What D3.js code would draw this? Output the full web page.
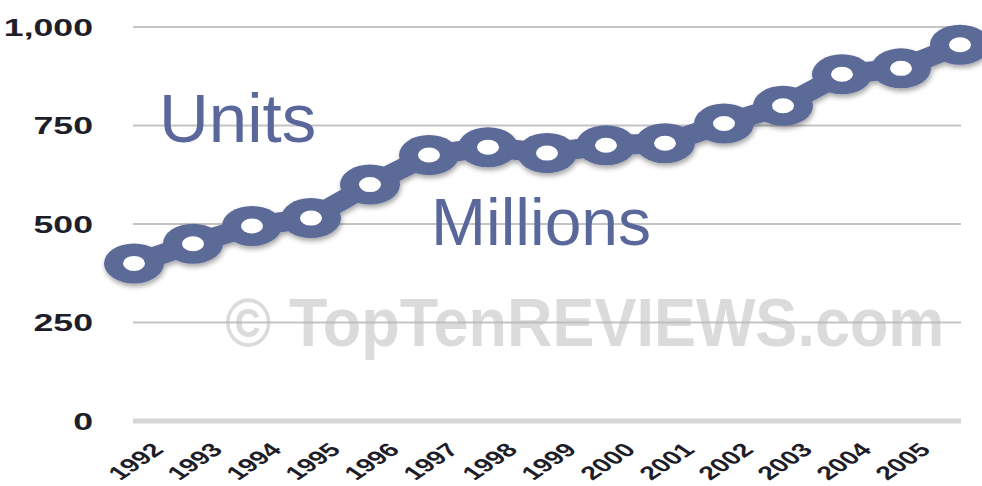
<!DOCTYPE html>
<html>
<head>
<meta charset="utf-8">
<script src="https://cdn.jsdelivr.net/npm/d3@7"></script>
<style>
  html, body { margin: 0; padding: 0; background: #fff; }
  svg { display: block; }
</style>
</head>
<body>
<script>
// Unit shipments per year, in millions
const years = [1992, 1993, 1994, 1995, 1996, 1997, 1998, 1999, 2000, 2001, 2002, 2003, 2004, 2005, 2006];
const units = [400, 450, 495, 515, 600, 675, 695, 680, 700, 705, 755, 800, 880, 895, 955];
const xTickLabels = ["1992", "1993", "1994", "1995", "1996", "1997", "1998", "1999", "2000", "2001", "2002", "2003", "2004", "2005"];
const yTicks = [0, 250, 500, 750, 1000];

const W = 982, H = 486;
const blue = "#5b6a98";
const font = "'Liberation Sans', Arial, sans-serif";

const svg = d3.select("body").append("svg")
  .attr("width", W).attr("height", H)
  .attr("viewBox", `0 0 ${W} ${H}`);

const defs = svg.append("defs");
const shadow = defs.append("filter").attr("id", "soft-shadow")
  .attr("x", "-10%").attr("y", "-20%").attr("width", "120%").attr("height", "150%");
shadow.append("feDropShadow")
  .attr("dx", 1).attr("dy", 3).attr("stdDeviation", 2.5)
  .attr("flood-color", "#000").attr("flood-opacity", 0.35);

const x = d3.scalePoint().domain(years).range([134, 960]);
const y = d3.scaleLinear().domain([0, 1000]).range([421, 27]);

// Horizontal gridlines
const grid = svg.append("g");
grid.selectAll("line").data(yTicks).join("line")
  .attr("x1", 133).attr("x2", 961)
  .attr("y1", d => y(d)).attr("y2", d => y(d))
  .attr("stroke", d => d === 0 ? "#d6d6d6" : "#c4c4c4")
  .attr("stroke-width", d => d === 0 ? 5 : 2);

// Y axis labels (wide lettering)
const yAxis = d3.axisLeft(y).tickValues(yTicks).tickFormat(d3.format(",")).tickSize(0).tickPadding(0);
const gy = svg.append("g").call(yAxis);
gy.select(".domain").remove();
gy.selectAll(".tick text")
  .attr("x", null)
  .attr("transform", "translate(93,0) scale(1.55,1)")
  .attr("dy", "0.36em")
  .attr("text-anchor", "end")
  .attr("fill", "#1e1e2a")
  .style("font-family", font)
  .style("font-weight", "bold")
  .style("font-size", "23px");

// X axis labels, slanted
const xAxis = d3.axisBottom(x).tickValues(years.slice(0, xTickLabels.length))
  .tickFormat((d, i) => xTickLabels[i]).tickSize(0).tickPadding(0);
const gx = svg.append("g").call(xAxis);
gx.select(".domain").remove();
gx.selectAll(".tick").attr("transform", d => `translate(${x(d)},0)`);
gx.selectAll(".tick text")
  .attr("y", null).attr("dy", null)
  .attr("transform", "translate(31,451) scale(1.5,1) rotate(-45)")
  .attr("text-anchor", "end")
  .attr("fill", "#1e1e2a")
  .style("font-family", font)
  .style("font-weight", "bold")
  .style("font-size", "19px");

// Annotations
svg.append("text").text("Units")
  .attr("x", 159).attr("y", 142)
  .attr("fill", "#59679a")
  .style("font-family", font).style("font-size", "69px");
svg.append("text").text("Millions")
  .attr("x", 431).attr("y", 245)
  .attr("fill", "#59679a")
  .style("font-family", font).style("font-size", "66px");

// Series line with ring markers
const series = svg.append("g").attr("filter", "url(#soft-shadow)");
const line = d3.line().x((d, i) => x(years[i])).y(d => y(d));
series.append("path").datum(units)
  .attr("d", line)
  .attr("fill", "none")
  .attr("stroke", blue)
  .attr("stroke-width", 20)
  .attr("stroke-linejoin", "round");
series.selectAll("ellipse").data(units).join("ellipse")
  .attr("cx", (d, i) => x(years[i])).attr("cy", d => y(d))
  .attr("rx", 30).attr("ry", 20)
  .attr("fill", blue);
svg.append("g").selectAll("ellipse").data(units).join("ellipse")
  .attr("cx", (d, i) => x(years[i])).attr("cy", d => y(d))
  .attr("rx", 11).attr("ry", 7.5)
  .attr("fill", "#fff");

// Watermark
svg.append("text").text("© TopTenREVIEWS.com")
  .attr("transform", "translate(225,346) scale(1,1.08)")
  .attr("fill", "#b8b8b8").attr("fill-opacity", 0.5)
  .style("font-family", font).style("font-weight", "bold").style("font-size", "63px");
</script>
</body>
</html>
